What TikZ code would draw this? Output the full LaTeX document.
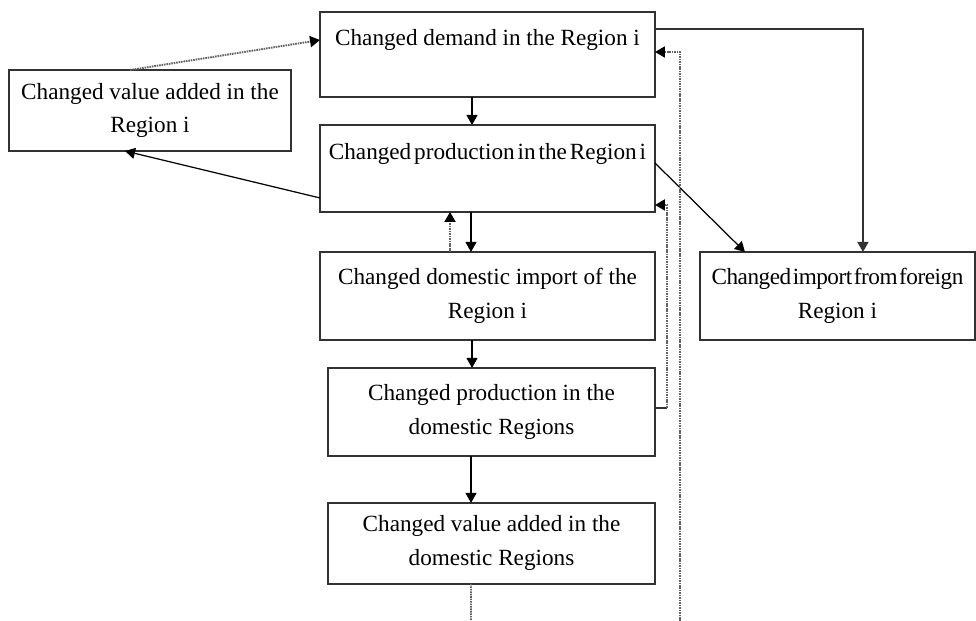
\documentclass[tikz,border=0pt]{standalone}
\usepackage{fontspec}
\setmainfont{Liberation Serif}
\newfontfamily\tightfont{Liberation Serif}[WordSpace=0.5]
\newfontfamily\condfont{Liberation Serif}[WordSpace=0.3,LetterSpace=-2]
\usetikzlibrary{arrows.meta, positioning}
\definecolor{boxline}{RGB}{50,50,50}
\definecolor{dotgray}{RGB}{100,100,100}

\begin{document}
\begin{tikzpicture}[
        x=0.02cm, y=-0.02cm,
        box/.style={rectangle, draw=boxline, line width=0.8pt, outer sep=0pt, fill=white, align=center, minimum width=6.7cm, minimum height=1.74cm, font=\fontsize{13.2}{19.3}\selectfont},
        arr/.style={-{Triangle[length=0.2cm, width=0.22cm]}, line width=0.7pt},
        dotarr/.style={-{Triangle[length=0.2cm, width=0.22cm, black]}, dotgray, line width=1.1pt, dash pattern=on 0.9pt off 0.5pt}
    ]
        \useasboundingbox (0,0) rectangle (976,621);

        \node[box, minimum height=1.7cm] (demand) at (487.5,54.5) {Changed demand in the Region i\\\mbox{}};
        \node[box, below=0.56cm of demand] (prod) {\tightfont Changed production in the Region i\\\mbox{}};
        \node[box, below=0.8cm of prod, minimum height=1.76cm] (domimp) {Changed domestic import of the\\Region i};
        \node[box, below=0.56cm of domimp, xshift=0.08cm, minimum width=6.54cm, minimum height=1.76cm] (domprod) {Changed production in the\\domestic Regions};
        \node[box, below=0.94cm of domprod, minimum width=6.54cm, minimum height=1.62cm] (domva) {Changed value added in the\\domestic Regions};
        \node[box, minimum width=5.64cm, minimum height=1.62cm] (valuei) at (150,110.5) {Changed value added in the\\Region i};
        \node[box, right=0.9cm of domimp, minimum width=5.5cm, minimum height=1.76cm] (foreign) {\condfont Changed import from foreign\\Region i};

        \coordinate (out1) at (471,621);
        \coordinate (out2) at (680,621);

        % main chain
        \draw[arr] ([xshift=-0.31cm]demand.south) -- ([xshift=-0.31cm]prod.north);
        \draw[arr] ([xshift=-0.33cm]prod.south) -- ([xshift=-0.33cm]domimp.north);
        \draw[dotarr] ([xshift=-0.75cm]domimp.north) -- ([xshift=-0.75cm]prod.south);
        \draw[arr] ([xshift=-0.31cm]domimp.south) -- ([xshift=-0.31cm]domimp.south |- domprod.north);
        \draw[arr] ([xshift=-0.41cm]domprod.south) -- ([xshift=-0.41cm]domva.north);
        \draw[dotarr, -] ([xshift=-0.41cm]domva.south) -- (out1);

        % region i
        \draw[arr] ([yshift=-0.59cm]prod.west) -- ([xshift=-0.5cm]valuei.south);
        \draw[dotarr] ([xshift=-0.4cm]valuei.north) -- ([yshift=0.29cm]demand.west);
        \draw[arr] ([yshift=0.11cm]prod.east) -- ([xshift=-1.85cm]foreign.north);
        \draw[arr, boxline, line width=0.9pt] ([yshift=0.51cm]demand.east) -| ([xshift=0.51cm]foreign.north);

        % feedback
        \draw[line width=0.8pt, boxline] ([yshift=0.08cm]domprod.east) -- ++(0.24cm,0) coordinate (fb);
        \draw[dotarr] (fb) |- ([yshift=-0.73cm]prod.east);
        \draw[dotarr] (out2) |- ([yshift=0.05cm]demand.east);
    \end{tikzpicture}
\end{document}
